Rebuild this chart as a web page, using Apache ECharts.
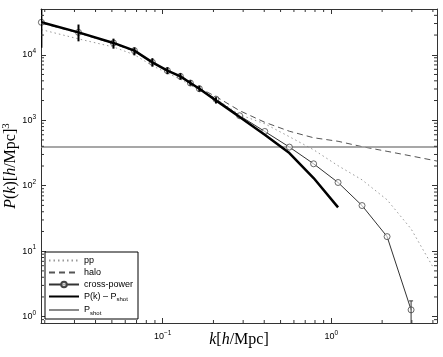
<!DOCTYPE html>
<html>
<head>
<meta charset="utf-8">
<script src="https://cdn.jsdelivr.net/npm/echarts@6/dist/echarts.min.js"></script>
<style>html,body{margin:0;padding:0;background:#fff}#c{width:443px;height:357px}</style>
</head>
<body>
<div id="c"></div>
<script>
// ---- data ----
const kBins = [0.0191, 0.0317, 0.0511, 0.068, 0.0869, 0.1067, 0.1274, 0.146, 0.165, 0.207, 0.286, 0.403, 0.564, 0.785, 1.096, 1.52, 2.14, 2.97];
const crossPower = [31300, 22000, 15150, 11550, 7660, 5720, 4680, 3700, 3030, 2100, 1172, 674, 389, 216, 112, 49.8, 16.7, 1.27];
const pkMinusShot = [31300, 22000, 15150, 11550, 7660, 5720, 4680, 3700, 3030, 2000, 1119, 600, 315, 131, 46.7];
const errLow  = [12850, 16030, 12390, 9790, 6580, 5050, 4160, 3370, 2730, 1800];
const errHigh = [49000, 28960, 17630, 12970, 8870, 6460, 5240, 4090, 3370, 2250];
const crossErr = [[2.97, 0.5, 1.74]];
const ppK = [0.0191, 0.0317, 0.0511, 0.068, 0.0869, 0.1067, 0.1274, 0.146, 0.165, 0.207, 0.286, 0.403, 0.564, 0.785, 1.096, 1.52, 2.14, 2.97, 4.0];
const ppVals = [24200, 17470, 13150, 10000, 6810, 5240, 4235, 3430, 2877, 2133, 1213, 884, 560, 354, 202, 123, 60.9, 21.9, 5.75];
const haloK = [0.0191, 0.0317, 0.0511, 0.068, 0.0869, 0.1067, 0.1274, 0.146, 0.165, 0.207, 0.286, 0.403, 0.564, 0.785, 1.096, 1.52, 2.14, 2.97, 4.23];
const haloVals = [30500, 21500, 14800, 11300, 7600, 5750, 4700, 3780, 3100, 2300, 1400, 931, 679, 540, 477, 395, 335, 285, 238];
const pShot = 389;
const xRange = [0.019, 4.23];
const yRange = [0.8, 50000];
const minorX = [0.02,0.03,0.04,0.05,0.06,0.07,0.08,0.09,0.2,0.3,0.4,0.5,0.6,0.7,0.8,0.9,2,3,4];
const minorY = [0.9,2,3,4,5,6,7,8,9,20,30,40,50,60,70,80,90,200,300,400,500,600,700,800,900,2000,3000,4000,5000,6000,7000,8000,9000,20000,30000,40000];

const zip = (a, b) => b.map((v, i) => [a[i], v]);
const SANS = 'Liberation Sans';
const SERIF = 'Liberation Serif';
const supFmt = v => {
  const e = Math.log10(v), r = Math.round(e);
  if (Math.abs(e - r) > 1e-6) return '';
  return '{b|10}{s|' + (r < 0 ? '\u2212' + (-r) : r) + '}';
};
const labRich = {
  b: {fontSize: 9, fontFamily: SANS, color: '#000'},
  s: {fontSize: 6.5, fontFamily: SANS, color: '#000', padding: [0, 0, 7, 0]}
};
const AX = {lineStyle: {color: '#333', width: 1}};
const TK = {inside: true, length: 5, lineStyle: {color: '#333'}};
const nameRich = {
  i: {fontFamily: SERIF, fontStyle: 'italic', fontSize: 16, color: '#000'},
  r: {fontFamily: SERIF, fontSize: 16, color: '#000'},
  s: {fontFamily: SERIF, fontSize: 11, color: '#000', padding: [0, 0, 9, 0]}
};

const chart = echarts.init(document.getElementById('c'), null, {renderer: 'canvas'});
chart.setOption({
  animation: false,
  backgroundColor: '#fff',
  grid: {left: 41, right: 6, top: 9, bottom: 34, outerBoundsMode: 'none', containLabel: false},
  xAxis: [{
    type: 'log', min: xRange[0], max: xRange[1], position: 'bottom',
    axisLine: AX, splitLine: {show: false}, axisTick: TK,
    axisLabel: {formatter: supFmt, rich: labRich, margin: 7, showMinLabel: false, showMaxLabel: false},
    name: '{i|k}{r|[}{i|h}{r|/Mpc]}', nameLocation: 'middle', nameGap: 9, nameMoveOverlap: false,
    nameTextStyle: {fontFamily: SERIF, fontSize: 16, color: '#000', rich: nameRich}
  }, {
    type: 'log', min: xRange[0], max: xRange[1], position: 'top',
    axisLine: AX, splitLine: {show: false}, axisTick: TK, axisLabel: {show: false}
  }],
  yAxis: [{
    type: 'log', min: yRange[0], max: yRange[1], position: 'left',
    axisLine: AX, splitLine: {show: false}, axisTick: TK,
    axisLabel: {formatter: supFmt, rich: labRich, margin: 5, showMinLabel: false, showMaxLabel: false},
    name: '{i|P}{r|(}{i|k}{r|)[}{i|h}{r|/Mpc]}{s|3}', nameLocation: 'middle', nameGap: 20, nameMoveOverlap: false,
    nameTextStyle: {fontFamily: SERIF, fontSize: 16, color: '#000', rich: nameRich}
  }, {
    type: 'log', min: yRange[0], max: yRange[1], position: 'right',
    axisLine: AX, splitLine: {show: false}, axisTick: TK, axisLabel: {show: false}
  }],
  legend: {
    data: [
      {name: 'pp', itemStyle: {opacity: 0}},
      {name: 'halo', itemStyle: {opacity: 0}},
      {name: 'cross-power'},
      {name: 'P(k) - Pshot', itemStyle: {opacity: 0}},
      {name: 'Pshot', itemStyle: {opacity: 0}}
    ],
    orient: 'vertical', left: 45, top: 252,
    itemWidth: 30, itemHeight: 7, itemGap: 3,
    padding: [4, 5, 3, 3],
    borderColor: '#000', borderWidth: 1, backgroundColor: '#fff',
    textStyle: {fontFamily: SANS, fontSize: 9, color: '#000',
      rich: {t: {fontFamily: SANS, fontSize: 9, color: '#000'},
             s: {fontFamily: SANS, fontSize: 6, color: '#000', padding: [6, 0, 0, 0]}}},
    formatter: n => n === 'P(k) - Pshot' ? '{t|P(k) \u2013 P}{s|shot}' : (n === 'Pshot' ? '{t|P}{s|shot}' : n)
  },
  series: [
    {name: 'pp', type: 'line', data: zip(ppK, ppVals), symbol: 'none',
     lineStyle: {color: '#999', width: 1, type: [1.5, 3]}, itemStyle: {color: '#999'}, z: 2},
    {name: 'halo', type: 'line', data: zip(haloK, haloVals), symbol: 'none',
     lineStyle: {color: '#555', width: 1, type: [6, 4]}, itemStyle: {color: '#555'}, z: 2},
    {name: 'Pshot', type: 'line', data: [[xRange[0], pShot], [xRange[1], pShot]], symbol: 'none',
     lineStyle: {color: '#8a8a8a', width: 1.5}, itemStyle: {color: '#8a8a8a'}, z: 2},
    {name: 'cross-power', type: 'line', data: zip(kBins, crossPower),
     symbol: 'circle', symbolSize: 6, showAllSymbol: true,
     lineStyle: {color: '#333', width: 1},
     itemStyle: {color: 'rgba(255,255,255,0.6)', borderColor: '#444', borderWidth: 0.8}, z: 3},
    {name: 'P(k) - Pshot', type: 'line', data: zip(kBins, pkMinusShot), symbol: 'none',
     lineStyle: {color: '#000', width: 2.5}, itemStyle: {color: '#000'}, z: 4},
    {type: 'custom', name: 'errThick', z: 5, clip: true,
     data: errLow.map((lo, i) => [kBins[i], lo, errHigh[i]]),
     encode: {x: 0, y: [1, 2]},
     renderItem: (params, api) => {
       const a = api.coord([api.value(0), api.value(1)]);
       const b = api.coord([api.value(0), api.value(2)]);
       return {type: 'line', shape: {x1: a[0], y1: a[1], x2: b[0], y2: b[1]},
               style: {stroke: '#000', lineWidth: 2}};
     }},
    {type: 'custom', name: 'errCross', z: 5, clip: true,
     data: crossErr, encode: {x: 0, y: [1, 2]},
     renderItem: (params, api) => {
       const a = api.coord([api.value(0), api.value(1)]);
       const b = api.coord([api.value(0), api.value(2)]);
       return {type: 'group', children: [
         {type: 'line', shape: {x1: a[0], y1: a[1], x2: b[0], y2: b[1]}, style: {stroke: '#333', lineWidth: 1}},
         {type: 'line', shape: {x1: b[0] - 2, y1: b[1], x2: b[0] + 2, y2: b[1]}, style: {stroke: '#333', lineWidth: 1}}
       ]};
     }},
    {type: 'custom', name: 'minorX', z: 6, clip: false,
     data: minorX.map(v => [v, 1]), encode: {x: 0, y: 1},
     renderItem: (params, api) => {
       const cs = params.coordSys;
       const x = api.coord([api.value(0), 1])[0];
       return {type: 'group', children: [
         {type: 'line', shape: {x1: x, y1: cs.y + cs.height, x2: x, y2: cs.y + cs.height - 3}, style: {stroke: '#333', lineWidth: 1}},
         {type: 'line', shape: {x1: x, y1: cs.y, x2: x, y2: cs.y + 3}, style: {stroke: '#333', lineWidth: 1}}
       ]};
     }},
    {type: 'custom', name: 'minorY', z: 6, clip: false,
     data: minorY.map(v => [0.1, v]), encode: {x: 0, y: 1},
     renderItem: (params, api) => {
       const cs = params.coordSys;
       const y = api.coord([0.1, api.value(1)])[1];
       return {type: 'group', children: [
         {type: 'line', shape: {x1: cs.x, y1: y, x2: cs.x + 3, y2: y}, style: {stroke: '#333', lineWidth: 1}},
         {type: 'line', shape: {x1: cs.x + cs.width, y1: y, x2: cs.x + cs.width - 3, y2: y}, style: {stroke: '#333', lineWidth: 1}}
       ]};
     }}
  ]
});
</script>
</body>
</html>
